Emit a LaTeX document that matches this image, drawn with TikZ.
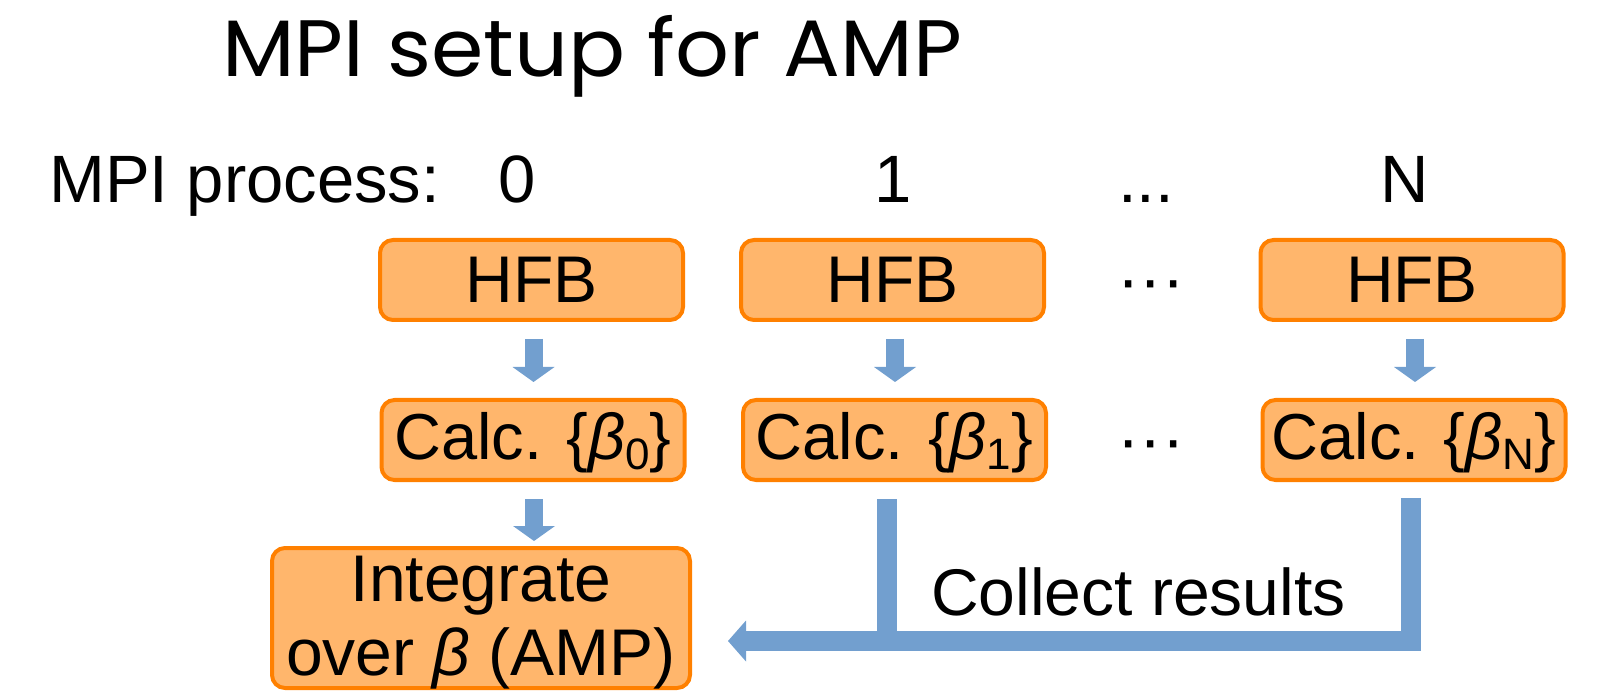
\documentclass[tikz,border=0pt]{standalone}
\usepackage{fontspec}
\setmainfont{Liberation Sans}
\newfontfamily\titlefont{Poppins}
\usetikzlibrary{arrows.meta}
\definecolor{boxfill}{HTML}{FFB66C}
\definecolor{boxline}{HTML}{FF8000}
\definecolor{flow}{HTML}{729FCF}
\newcommand\bsub[1]{\raisebox{-10pt}{\fontsize{44}{44}\selectfont #1}}
\begin{document}
\begin{tikzpicture}[x=1pt,y=-1pt,
  lbl/.style={inner sep=0pt, font=\fontsize{67}{74}\selectfont},
  box/.style={draw=boxline, fill=boxfill, line width=4pt, rounded corners=13pt,
    minimum width=303pt, minimum height=80pt, inner sep=0pt, outer sep=2pt,
    font=\fontsize{66}{74}\selectfont},
  hfbbox/.style={box, text height=46pt, text depth=0pt},
  calcbox/.style={box, font=\fontsize{65}{74}\selectfont, text height=50pt, text depth=10pt},
  blk/.style={draw=flow, line width=18pt, -{Triangle[width=42pt,length=15pt,line width=0pt]}},
  bigline/.style={draw=flow, line width=20pt},
  big/.style={bigline, -{Triangle[width=41pt,length=18pt,line width=0pt]}}]
\useasboundingbox (0,0) rectangle (1599,692);

\node[anchor=base west, inner sep=0pt, font=\titlefont\fontsize{80}{80}\selectfont] (title) at (222,77) {\scalebox{1.055}[1]{MPI setup for AMP}};

\node[lbl, anchor=base west] (proc) at (49,203) {MPI process:};
\node[lbl, anchor=base] (p0) at (517,203) {0};
\node[lbl, anchor=base] (p1) at (893,203) {1};
\node[lbl, anchor=base] (pd) at (1146,203) {...};
\node[lbl, anchor=base] (pN) at (1405,203) {N};

\node[hfbbox] (hfb0) at (531.5,280) {HFB};
\node[hfbbox] (hfb1) at (892.5,280) {HFB};
\node[hfbbox] (hfbN) at (1412,280) {HFB};
\node[lbl, anchor=base] (dots1) at (1151,303) {···};

\node[calcbox] (calc0) at (533,440) {Calc. \{\textit{β}\bsub{0}\}};
\node[calcbox] (calc1) at (894.5,440) {Calc. \{\textit{β}\bsub{1}\}};
\node[calcbox] (calcN) at (1414,440) {Calc. \{\textit{β}\bsub{N}\}};
\node[lbl, anchor=base] (dots2) at (1151,463) {···};

\node[box, minimum width=418pt, minimum height=140pt, align=center, text depth=4pt,
  font=\fontsize{66}{74}\selectfont] (integ) at (481,618) {Integrate\\over \textit{β} (AMP)};

\draw[blk] ([xshift=2pt,yshift=-17pt]hfb0.south) -- ([xshift=0.5pt,yshift=16pt]calc0.north);
\draw[blk] ([xshift=2.5pt,yshift=-17pt]hfb1.south) -- ([xshift=0.5pt,yshift=16pt]calc1.north);
\draw[blk] ([xshift=3pt,yshift=-17pt]hfbN.south) -- ([xshift=1pt,yshift=16pt]calcN.north);
\draw[blk] ([xshift=1pt,yshift=-17pt]calc0.south) -- ([xshift=53pt,yshift=5pt]integ.north);

\coordinate (tipc) at ([shift={(36pt,-23pt)}]integ.east);
\draw[big] ([xshift=-3pt,yshift=-16pt]calcN.south) |- (tipc);
\draw[bigline] ([xshift=-7.5pt,yshift=-17pt]calc1.south) -- ([xshift=-7.5pt]calc1.south |- tipc);

\node[inner sep=0pt, anchor=base west, font=\fontsize{66}{74}\selectfont] (collect) at (931,615) {Collect results};
\end{tikzpicture}
\end{document}
